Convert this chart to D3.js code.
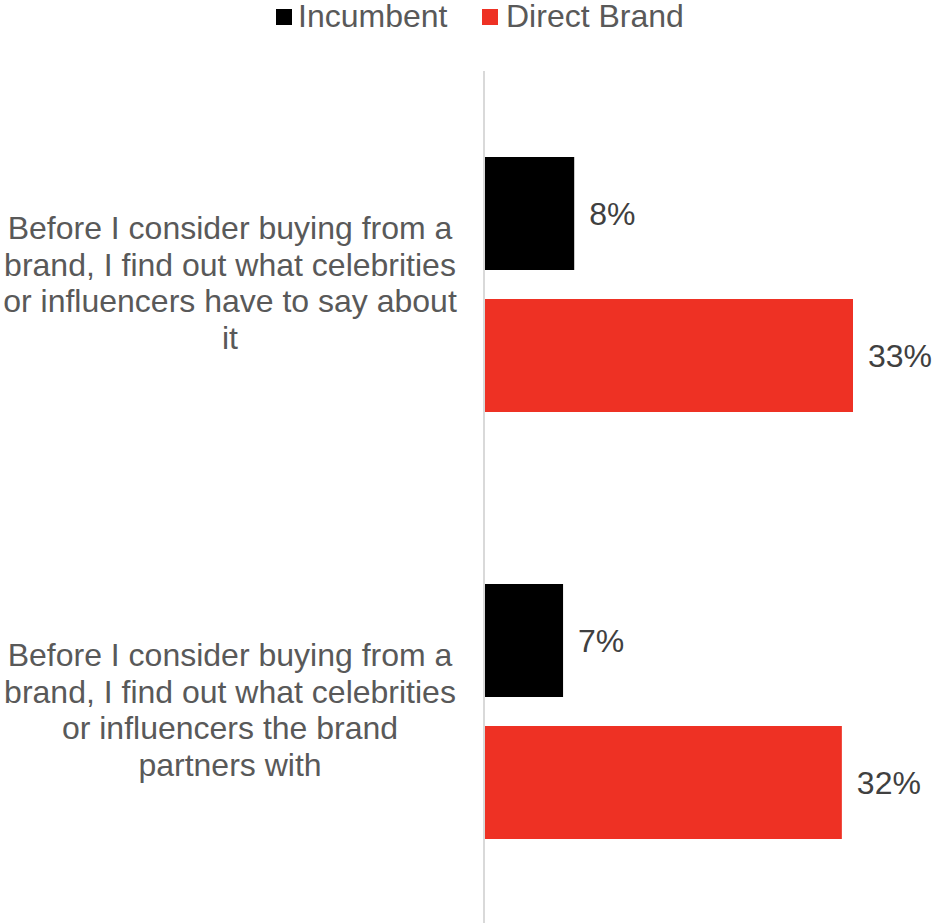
<!DOCTYPE html>
<html>
<head>
<meta charset="utf-8">
<script src="https://cdn.jsdelivr.net/npm/d3@7/dist/d3.min.js"></script>
<style>
  html, body { margin: 0; padding: 0; background: #fff; }
  svg { display: block; font-family: "Liberation Sans", Arial, sans-serif; }
</style>
</head>
<body>
<svg id="chart" width="941" height="923"></svg>
<script>
// Survey statements (one wrapped label per line)
const categories = [
  ["Before I consider buying from a", "brand, I find out what celebrities", "or influencers have to say about", "it"],
  ["Before I consider buying from a", "brand, I find out what celebrities", "or influencers the brand", "partners with"]
];
const seriesNames = ["Incumbent", "Direct Brand"];
const seriesColors = ["#000000", "#ee3124"];
const incumbentValues = [8, 7];
const directBrandValues = [33, 32];

const svg = d3.select("#chart");
const H = 923;
const x0 = 485;
const fontSize = 32;

const x = d3.scaleLinear().domain([0, 33]).range([x0, 853]);
const y = d3.scaleBand().domain(d3.range(categories.length)).range([71, 925]);

// two bars of 113px separated by 29px, centred in each category band
const barH = 113, barGap = 29;
const barOffset = (y.bandwidth() - (2 * barH + barGap)) / 2;

const seriesValues = [incumbentValues, directBrandValues];

// vertical axis line
svg.append("line")
  .attr("x1", x0 - 1).attr("x2", x0 - 1)
  .attr("y1", 71).attr("y2", H)
  .attr("stroke", "#d9d9d9").attr("stroke-width", 2);

const groups = svg.selectAll("g.cat").data(categories).join("g")
  .attr("class", "cat")
  .attr("transform", (d, i) => `translate(0,${y(i)})`);

seriesValues.forEach((vals, s) => {
  groups.append("rect")
    .attr("x", x0)
    .attr("y", barOffset + s * (barH + barGap))
    .attr("width", (d, i) => x(vals[i]) - x0)
    .attr("height", barH)
    .attr("fill", seriesColors[s]);
  groups.append("text")
    .attr("x", (d, i) => x(vals[i]) + 15)
    .attr("y", barOffset + s * (barH + barGap) + barH / 2)
    .attr("dy", "0.37em")
    .attr("font-size", fontSize)
    .attr("fill", "#404040")
    .text((d, i) => vals[i] + "%");
});

// category labels
const lineH = 36.7;
groups.append("text")
  .attr("text-anchor", "middle")
  .attr("font-size", fontSize)
  .attr("fill", "#595959")
  .each(function(lines) {
    const t = d3.select(this);
    const mid = y.bandwidth() / 2;
    const start = mid - (lines.length - 1) * lineH / 2;
    lines.forEach((ln, k) => {
      t.append("tspan").attr("x", 230).attr("y", start + k * lineH).attr("dy", "0.3em").text(ln);
    });
  });

// legend
const legendItems = [{ x: 276, tx: 298 }, { x: 482, tx: 506 }];
const legend = svg.append("g");
seriesNames.forEach((name, i) => {
  legend.append("rect")
    .attr("x", legendItems[i].x).attr("y", 9)
    .attr("width", 16).attr("height", 16)
    .attr("fill", seriesColors[i]);
  legend.append("text")
    .attr("x", legendItems[i].tx).attr("y", 27)
    .attr("font-size", fontSize)
    .attr("fill", "#595959")
    .text(name);
});
</script>
</body>
</html>
